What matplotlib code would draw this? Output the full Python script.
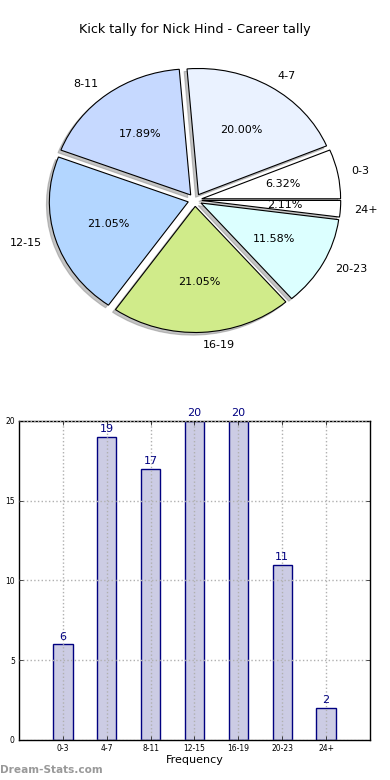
import matplotlib
matplotlib.use("Agg")
import matplotlib.pyplot as plt

# kick tally data
categories = ["0-3", "4-7", "8-11", "12-15", "16-19", "20-23", "24+"]
counts = [6, 19, 17, 20, 20, 11, 2]
slice_colors = ["#ffffff", "#eaf2ff", "#c6d9ff", "#b3d6ff", "#d0eb8a", "#dcffff", "#ffffff"]
y_ticks = [0, 5, 10, 15, 20]

title = "Kick tally for Nick Hind - Career tally"

fig = plt.figure(figsize=(3.9, 7.8), dpi=100)

# --- pie ---
ax1 = fig.add_axes([0.0367, 0.5333, 0.926, 0.4205])
ax1.pie(counts, labels=categories, colors=slice_colors, explode=[0.05] * len(counts),
        autopct="%1.2f%%",
        shadow=dict(ox=-0.015, oy=-0.015, facecolor="#8a8a8a", edgecolor="#8a8a8a"),
        startangle=0,
        wedgeprops=dict(edgecolor="black", linewidth=0.8),
        textprops=dict(fontsize=8))
ax1.set_aspect("auto")
ax1.set_xlim(-1.3, 1.3)
ax1.set_ylim(-1.3, 1.3)
ax1.axis("off")
fig.text(0.5, 1 - 30 / 780, title, ha="center", va="center", fontsize=9.2)

# --- bars ---
ax2 = fig.add_axes([0.0487, 0.0513, 0.9, 0.409])
x = list(range(len(categories)))
ax2.bar(x, counts, width=0.44, color="#ccccE4", edgecolor="#000080", linewidth=1)
for xi, c in zip(x, counts):
    ax2.annotate(str(c), (xi, c), xytext=(0, 2), textcoords="offset points",
                 ha="center", va="bottom", fontsize=8, color="#000080",
                 annotation_clip=False)
ax2.set_xlim(-1, 7)
ax2.set_ylim(0, 20)
ax2.set_xticks(x)
ax2.set_xticklabels(categories, fontsize=5.5)
ax2.set_yticks(y_ticks)
ax2.set_yticklabels([str(v) for v in y_ticks], fontsize=5.5)
ax2.tick_params(direction="in", top=True, right=True, length=3, width=0.5, pad=3)
ax2.grid(True, linestyle=":", color="#b0b0b0", linewidth=1)
ax2.set_axisbelow(False)
ax2.set_xlabel("Frequency", fontsize=8, labelpad=1)
for s in ax2.spines.values():
    s.set_linewidth(1)

# y label sits mostly off the left edge, as in the original
fig.text(-3 / 390, 1 - 583 / 780, "Stat Total Value", rotation=90, ha="center", va="center", fontsize=8)
fig.text(0.0, 1 - 770 / 780, "Dream-Stats.com", ha="left", va="center", fontsize=7.6,
         color="#999999", fontweight="bold")

fig.savefig("out.png", dpi=100)
